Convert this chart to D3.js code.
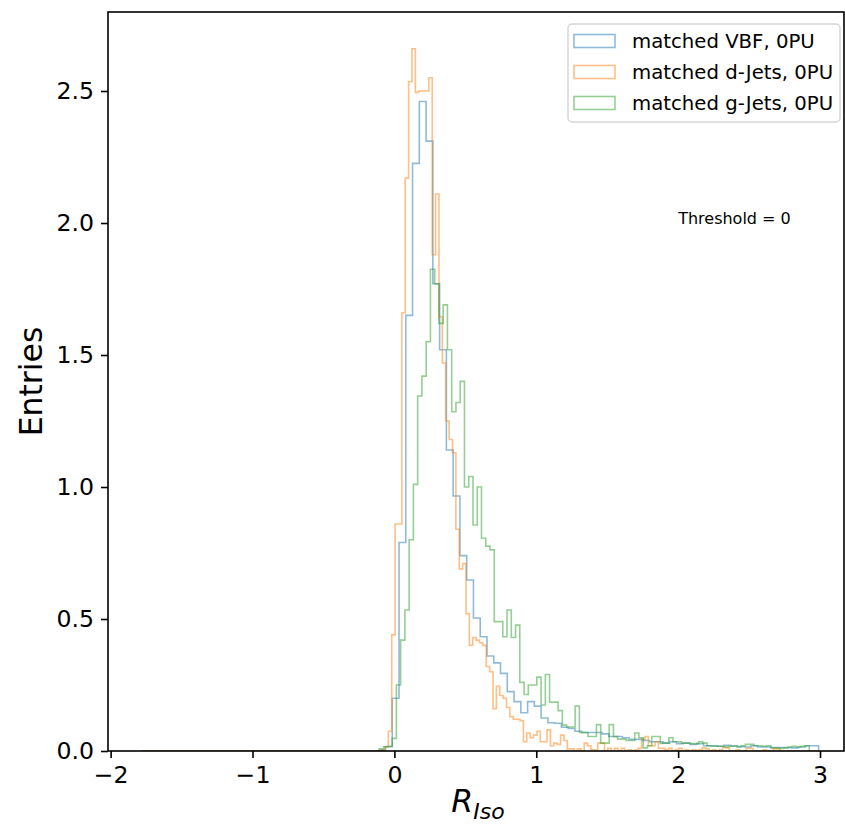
<!DOCTYPE html>
<html>
<head>
<meta charset="utf-8">
<script src="https://cdn.jsdelivr.net/npm/d3@7"></script>
<style>
body { margin: 0; background: #fff; }
text { font-family: "DejaVu Sans", sans-serif; fill: #000; }
</style>
</head>
<body>
<svg id="chart" width="845" height="826"></svg>
<script>
// histogram contents (normalised entries per bin)
var vbfRange = [-1.78, 2.99];
var vbfLow = -0.1105;
var vbfWidth = 0.0477;
var vbfCounts = [
  0.003, 0.016,
  0.20, 0.79, 1.65, 2.226, 2.46, 2.31, 1.77, 1.52, 1.14, 0.966,
  0.74, 0.648, 0.504, 0.433, 0.36, 0.334, 0.294, 0.225, 0.187, 0.145,
  0.187, 0.17, 0.125, 0.107, 0.105, 0.09, 0.085, 0.075, 0.07, 0.07,
  0.07, 0.065, 0.055, 0.055, 0.05, 0.044, 0.044, 0.04, 0.035, 0.035,
  0.03, 0.035, 0.028, 0.03, 0.025, 0.028, 0.02, 0.02, 0.018, 0.022,
  0.02, 0.017, 0.015, 0.02, 0.015, 0.015, 0.013, 0.013, 0.013, 0.012,
  0.015, 0.02, 0.02
];

var dJetRange = [-1.78, 2.98];
var dJetLow = -0.0902;
var dJetWidth = 0.0238;
var dJetCounts = [
  0.005, 0.016, 0.075, 0.44,
  0.86, 0.86, 1.66, 2.17, 2.535, 2.66, 2.495, 2.50, 2.50, 2.50,
  2.55, 1.88, 2.11, 1.645, 1.47, 1.25, 1.18, 1.13, 0.84, 0.69,
  0.71, 0.52, 0.40, 0.43, 0.42, 0.41, 0.40, 0.32, 0.30, 0.16,
  0.245, 0.21, 0.20, 0.165, 0.13, 0.12, 0.12, 0.115, 0.035, 0.068,
  0.05, 0.06, 0.075, 0.035, 0.035, 0.08, 0.02, 0.03, 0.025, 0.06,
  0.04, 0.008, 0.008, 0, 0.008, 0, 0.03, 0.02, 0.005, 0.005,
  0.03, 0.03, 0, 0.01, 0, 0.01, 0, 0.01, 0, 0.005,
  0, 0.005, 0.01, 0.045, 0.055, 0.02, 0.02, 0.035, 0.01, 0.01,
  0.005, 0.01, 0, 0.005, 0.01, 0, 0.005, 0, 0.005, 0,
  0.005, 0.012, 0.008, 0, 0.005, 0, 0.005, 0.015, 0.012, 0,
  0, 0.005, 0, 0, 0.01, 0.01, 0, 0, 0, 0.005,
  0, 0, 0.008, 0.008
];

var gJetRange = [-0.106, 2.924];
var gJetLow = -0.106;
var gJetWidth = 0.030;
var gJetCounts = [
  0.008, 0.016, 0.018,
  0.048, 0.25, 0.42, 0.534, 0.80, 1.01, 1.345, 1.42, 1.55, 1.825,
  1.77, 1.62, 1.69, 1.52, 1.285, 1.32, 1.40, 1.00, 1.04, 0.856,
  1.00, 0.806, 0.776, 0.762, 0.49, 0.49, 0.433, 0.534, 0.43, 0.477,
  0.26, 0.214, 0.25, 0.25, 0.28, 0.174, 0.29, 0.185, 0.185, 0.153,
  0.098, 0.091, 0.091, 0.17, 0.07, 0.07, 0.055, 0.055, 0.10, 0.03,
  0.03, 0.10, 0.055, 0.045, 0.045, 0.04, 0.04, 0.068, 0.05, 0.012,
  0.02, 0.055, 0.055, 0.03, 0.03, 0.05, 0.035, 0.035, 0.03, 0.03,
  0.028, 0.028, 0.035, 0.03, 0.02, 0.018, 0.018, 0.018, 0.015, 0.018,
  0.018, 0.015, 0.02, 0.025, 0.025, 0.02, 0.02, 0.018, 0.02, 0.012,
  0.012, 0.01, 0.012, 0.015, 0.018, 0.015, 0.018, 0.02
];

var seriesNames = ['matched VBF, 0PU', 'matched d-Jets, 0PU', 'matched g-Jets, 0PU'];
var seriesColors = ['#1f77b4', '#ff7f0e', '#2ca02c'];
var xTicks = [-2, -1, 0, 1, 2, 3];
var yTicks = [0, 0.5, 1.0, 1.5, 2.0, 2.5];
var xDomain = [-2.0185, 3.169];
var yDomain = [0, 2.7993];
var annotation = 'Threshold = 0';

(function() {
var left = 108, top = 12, right = 844, bottom = 751;
var svg = d3.select('#chart');

var x = d3.scaleLinear().domain(xDomain).range([left, right]);
var y = d3.scaleLinear().domain(yDomain).range([bottom, top]);

function stepPoints(range, low, width, counts) {
  var pts = [[range[0], 0], [low, 0]];
  counts.forEach(function(c, i) {
    pts.push([low + i * width, c]);
    pts.push([low + (i + 1) * width, c]);
  });
  pts.push([low + counts.length * width, 0]);
  pts.push([range[1], 0]);
  return pts;
}

var series = [
  stepPoints(vbfRange, vbfLow, vbfWidth, vbfCounts),
  stepPoints(dJetRange, dJetLow, dJetWidth, dJetCounts),
  stepPoints(gJetRange, gJetLow, gJetWidth, gJetCounts)
];

svg.append('defs').append('clipPath').attr('id', 'plotclip')
  .append('rect')
  .attr('x', left).attr('y', top)
  .attr('width', right - left).attr('height', bottom - top);

var line = d3.line()
  .x(function(d){ return x(d[0]); })
  .y(function(d){ return y(d[1]); });

svg.append('g')
  .attr('clip-path', 'url(#plotclip)')
  .selectAll('path')
  .data(series)
  .enter()
  .append('path')
  .attr('d', line)
  .attr('fill', 'none')
  .attr('stroke', function(d, i){ return seriesColors[i]; })
  .attr('stroke-opacity', 0.5)
  .attr('stroke-width', 1.6)
  .attr('stroke-linejoin', 'miter');

// axes
var xAxis = svg.append('g')
  .attr('transform', 'translate(0,' + bottom + ')')
  .call(d3.axisBottom(x).tickValues(xTicks).tickSize(7).tickPadding(7)
    .tickFormat(function(d){ return d < 0 ? '\u2212' + Math.abs(d) : d; }));
var yAxis = svg.append('g')
  .attr('transform', 'translate(' + left + ',0)')
  .call(d3.axisLeft(y).tickValues(yTicks).tickSize(7).tickPadding(7)
    .tickFormat(d3.format('.1f')));

[xAxis, yAxis].forEach(function(g) {
  g.select('.domain').remove();
  g.selectAll('.tick line').attr('stroke', '#000').attr('stroke-width', 1.6);
  g.selectAll('.tick text')
    .attr('font-family', '"DejaVu Sans", sans-serif')
    .attr('font-size', 23.6)
    .attr('fill', '#000');
});
xAxis.selectAll('.tick text').attr('dy', '0.76em');

svg.append('rect')
  .attr('x', left).attr('y', top)
  .attr('width', right - left).attr('height', bottom - top)
  .attr('fill', 'none')
  .attr('stroke', '#000')
  .attr('stroke-width', 1.6);

// axis titles
svg.append('text')
  .attr('transform', 'translate(42,' + ((top + bottom) / 2) + ') rotate(-90)')
  .attr('text-anchor', 'middle')
  .attr('font-size', 31.5)
  .text('Entries');

var xl = svg.append('text')
  .attr('x', 478).attr('y', 812)
  .attr('text-anchor', 'middle')
  .attr('font-size', 31.5)
  .attr('font-style', 'italic');
xl.append('tspan').text('R');
xl.append('tspan').attr('font-size', 22).attr('dy', 7).text('Iso');

svg.append('text')
  .attr('x', x(2.0)).attr('y', 224)
  .attr('font-size', 16)
  .text(annotation);

// legend
var lg = svg.append('g').attr('transform', 'translate(568,24)');
lg.append('rect')
  .attr('width', 272).attr('height', 98)
  .attr('rx', 4)
  .attr('fill', '#fff').attr('fill-opacity', 0.8)
  .attr('stroke', '#d6d6d6').attr('stroke-width', 1.5);
var rows = lg.selectAll('g.row')
  .data(seriesNames)
  .enter()
  .append('g')
  .attr('class', 'row')
  .attr('transform', function(d, i){ return 'translate(0,' + (17 + i * 31) + ')'; });
rows.append('rect')
  .attr('x', 6).attr('y', -6.5)
  .attr('width', 41).attr('height', 13)
  .attr('fill', 'none')
  .attr('stroke', function(d, i){ return seriesColors[i]; })
  .attr('stroke-opacity', 0.5)
  .attr('stroke-width', 1.6);
rows.append('text')
  .attr('x', 64).attr('y', 0)
  .attr('dy', '0.36em')
  .attr('font-size', 19.7)
  .text(function(d){ return d; });
})();
</script>
</body>
</html>
